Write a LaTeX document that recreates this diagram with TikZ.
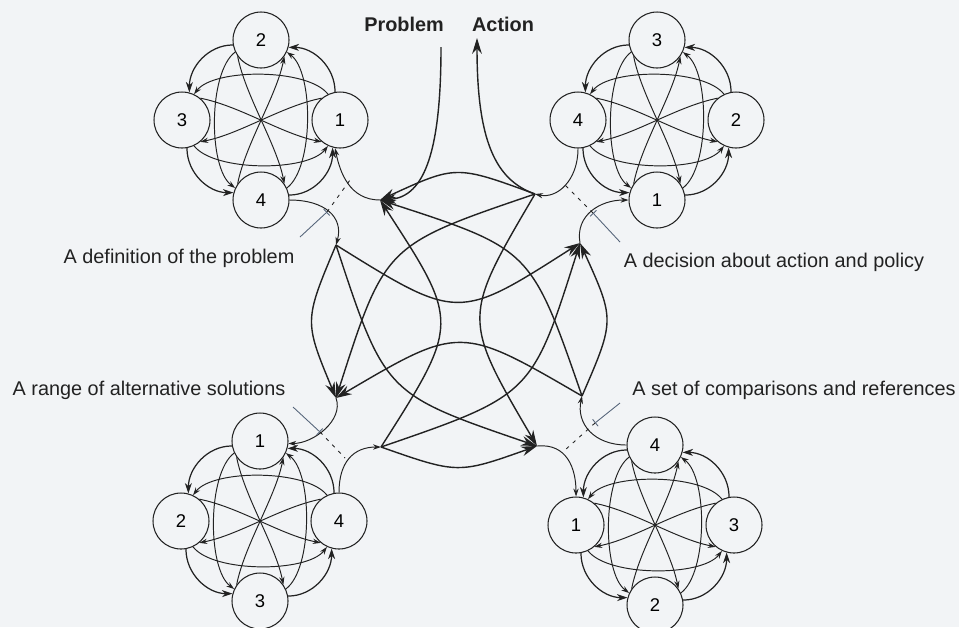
\documentclass[tikz,border=0pt]{standalone}
\usepackage{fontspec}
\setmainfont{Liberation Sans}
\usetikzlibrary{arrows.meta, positioning}
\definecolor{ink}{HTML}{222222}
\definecolor{paper}{HTML}{F2F4F6}
\definecolor{pointer}{HTML}{56657A}
\tikzset{
        ring/.style = {draw=ink, circle, line width=0.6pt,
            minimum size=1.12cm, inner sep=0pt,
            font=\fontsize{10.5}{12}\selectfont},
        link/.style = {draw=ink, line width=0.55pt, -{Stealth[length=4.5pt,width=3pt]}},
        ringarrow/.style = {draw=ink, line width=0.7pt, -{Stealth[length=6pt,width=4pt]}},
        hub/.style = {draw=ink, line width=0.8pt, -{Stealth[length=9pt,width=5.5pt]}},
        caption/.style = {font=\fontsize{11.3}{13}\selectfont, text=ink, inner sep=0pt},
        heading/.style = {font=\bfseries\fontsize{11.3}{13}\selectfont, text=ink, inner sep=0pt},
        pointer/.style = {draw=pointer, line width=0.5pt, -{Bar[width=5pt]}},
        seam/.style = {draw=ink, line width=0.5pt, dash pattern=on 2pt off 3pt},
}
% one group of four circles: prefix, centre, labels N W E S
\newcommand{\stagecluster}[6]{%
  \begin{scope}[shift={#2}]
    \node [ring] (#1n) at (0,-80) {#3};
    \node [ring] (#1w) at (-79,0) {#4};
    \node [ring] (#1e) at (79,0) {#5};
    \node [ring] (#1s) at (0,80) {#6};
    % outer ring
    \draw [ringarrow] (#1e.100) .. controls +(0,-25) and +(25,0) .. (#1n.-15);
    \draw [ringarrow] (#1n.190) .. controls +(-25,0) and +(0,-25) .. (#1w.75);
    \draw [ringarrow] (#1w.280) .. controls +(0,25) and +(-25,0) .. (#1s.165);
    \draw [ringarrow] (#1s.10) .. controls +(25,0) and +(0,25) .. (#1e.255);
    % arcs across
    \draw [link] (#1e.115) .. controls +(-20,-26) and +(20,-26) .. (#1w.65);
    \draw [link] (#1w.-65) .. controls +(20,26) and +(-20,26) .. (#1e.-115);
    \draw [link] (#1n.205) .. controls +(-27,20) and +(-27,-20) .. (#1s.155);
    \draw [link] (#1s.25) .. controls +(27,-20) and +(27,20) .. (#1n.-25);
    % crossing lines
    \draw [link] (#1n.215) .. controls +(8,40) and +(-8,-40) .. (#1s.35);
    \draw [link] (#1s.145) .. controls +(8,-40) and +(-8,40) .. (#1n.-35);
    \draw [link] (#1w.50) .. controls +(40,8) and +(-40,-8) .. (#1e.230);
    \draw [link] (#1e.130) .. controls +(-40,8) and +(40,-8) .. (#1w.-50);
  \end{scope}}

\begin{document}
\begin{tikzpicture}[x=0.02cm, y=-0.02cm]
\fill [paper] (0,0) rectangle (959,627);
\useasboundingbox (0,0) rectangle (959,627);

\stagecluster{tl}{(261,120)}{2}{3}{1}{4}
\stagecluster{tr}{(657,120)}{3}{4}{2}{1}
\stagecluster{bl}{(260,521)}{1}{2}{4}{3}
\stagecluster{br}{(655,525)}{4}{1}{3}{2}

% ports of each group
\coordinate (tlin) at (380,200);
\coordinate (tlout) at (336,245);
\coordinate (trout) at (535,194);
\coordinate (trin) at (580,243);
\coordinate (blin) at (336,398);
\coordinate (blout) at (381,447);
\coordinate (brout) at (582,396);
\coordinate (brin) at (537,446);

\node [heading] (problem) at (404,24) {Problem};
\node [heading] (action) at (503,24) {Action};
\coordinate (problemfoot) at (441,47);
\coordinate (actionfoot) at (477,38);

\node [caption] (definition) at (179,258) {A definition of the problem};
\node [caption] (decision) at (774,262) {A decision about action and policy};
\node [caption] (range) at (149,390) {A range of alternative solutions};
\node [caption] (comparison) at (794,390) {A set of comparisons and references};

% outside in and out
\draw [hub] (problemfoot) .. controls (441,150) and (425,197) .. (tlin);
\draw [hub] (trout) .. controls (495,180) and (477,140) .. (actionfoot);

% ports to circles
\draw [link] (tlin) .. controls +(-30,0) and +(5,25) .. (tle.-100);
\draw [link] (tls.0) .. controls +(35,0) and +(8,-28) .. (tlout);
\draw [link] (trin) .. controls +(-5,-28) and +(-28,0) .. (trs.180);
\draw [link] (trw.-90) .. controls +(0,32) and +(22,5) .. (trout);
\draw [link] (blin) .. controls +(8,22) and +(25,0) .. (bln.-5);
\draw [link] (ble.90) .. controls +(0,-30) and +(-28,0) .. (blout);
\draw [link] (brin) .. controls +(30,-3) and +(0,-28) .. (brw.90);
\draw [link] (brn.180) .. controls +(-32,0) and +(-6,28) .. (brout);

% outer arcs between groups
\draw [hub] (trout) .. controls (456,165) .. (tlin);
\draw [hub] (tlout) .. controls (304,321) .. (blin);
\draw [hub] (blout) .. controls (458,474) .. (brin);
\draw [hub] (brout) .. controls (615,320) .. (trin);
% inner arcs
\draw [hub] (tlout) .. controls (458,321) .. (trin);
\draw [hub] (brout) .. controls (460,325) .. (blin);
\draw [hub] (blout) .. controls (460,323) .. (tlin);
\draw [hub] (trout) .. controls (462,318) .. (brin);
% diagonals
\draw [hub] (tlout) .. controls (385,394) .. (brin);
\draw [hub] (trout) .. controls (385,245) .. (blin);
\draw [hub] (brout) .. controls (531,249) .. (tlin);
\draw [hub] (blout) .. controls (532,395) .. (trin);

% pointers at the junctions
\coordinate (tlpin) at (300,237);
\coordinate (tlmark) at (327,212);
\coordinate (tlgap) at (350,180);
\coordinate (trpin) at (620,242);
\coordinate (trmark) at (593,213);
\coordinate (trgap) at (565,185);
\coordinate (blpin) at (293,407);
\coordinate (blmark) at (320,432);
\coordinate (blgap) at (345,458);
\coordinate (brpin) at (620,403);
\coordinate (brmark) at (595,423);
\coordinate (brgap) at (565,450);
\draw [pointer] (tlpin) -- (tlmark);
\draw [pointer] (trpin) -- (trmark);
\draw [pointer] (blpin) -- (blmark);
\draw [pointer] (brpin) -- (brmark);
\draw [seam] (tlmark) -- (tlgap);
\draw [seam] (trmark) -- (trgap);
\draw [seam] (blmark) -- (blgap);
\draw [seam] (brmark) -- (brgap);
\end{tikzpicture}
\end{document}
